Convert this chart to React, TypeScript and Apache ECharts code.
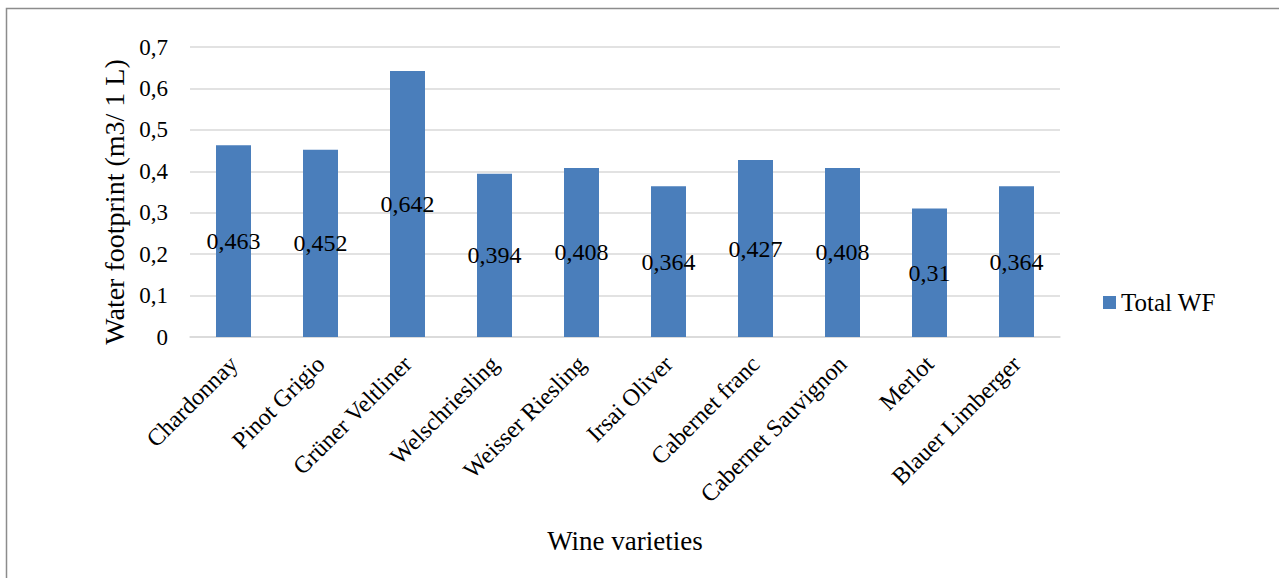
import React, { useEffect, useRef } from "react";
import * as echarts from "echarts";

const categories = [
  "Chardonnay",
  "Pinot Grigio",
  "Grüner Veltliner",
  "Welschriesling",
  "Weisser Riesling",
  "Irsai Oliver",
  "Cabernet franc",
  "Cabernet Sauvignon",
  "Merlot",
  "Blauer Limberger",
];
const totalWF = [0.463, 0.452, 0.642, 0.394, 0.408, 0.364, 0.427, 0.408, 0.31, 0.364];
const seriesName = "Total WF";
const yAxisName = "Water footprint (m3/ 1 L)";
const xAxisName = "Wine varieties";

const FONT = "Liberation Serif";
const comma = (v: number) => String(v).replace(".", ",");

export default function App() {
  const ref = useRef<HTMLDivElement>(null);

  useEffect(() => {
    if (!ref.current) return;
    const chart = echarts.init(ref.current, null, { renderer: "svg" });
    chart.setOption({
      animation: false,
      backgroundColor: "#ffffff",
      textStyle: { fontFamily: FONT, color: "#000" },
      graphic: [
        {
          type: "rect",
          shape: { x: 6.5, y: 8.5, width: 1300, height: 600 },
          style: { fill: "none", stroke: "#8c8c8c", lineWidth: 1.5 },
          silent: true,
        },
      ],
      legend: {
        left: 1098,
        top: 285,
        itemWidth: 13,
        itemHeight: 13,
        itemGap: 6,
        icon: "rect",
        textStyle: { fontFamily: FONT, fontSize: 25, color: "#000" },
        data: [seriesName],
      },
      grid: { left: 190, right: 219, top: 47, bottom: 241, containLabel: false },
      xAxis: {
        type: "category",
        data: categories,
        name: xAxisName,
        nameLocation: "middle",
        nameGap: 190,
        nameTextStyle: { fontFamily: FONT, fontSize: 27, color: "#000" },
        axisTick: { show: false },
        axisLine: { lineStyle: { color: "#d9d9d9", width: 1.5 } },
        axisLabel: {
          rotate: 45,
          interval: 0,
          margin: 23,
          fontFamily: FONT,
          fontSize: 24,
          color: "#000",
        },
      },
      yAxis: {
        type: "value",
        min: 0,
        max: 0.7,
        interval: 0.1,
        name: yAxisName,
        nameLocation: "middle",
        nameGap: 58,
        nameTextStyle: {
          fontFamily: FONT,
          fontSize: 28,
          color: "#000",
          padding: [0, 20, 0, 0],
        },
        axisLine: { show: false },
        axisTick: { show: false },
        splitLine: { lineStyle: { color: "#d9d9d9", width: 1.5 } },
        axisLabel: {
          margin: 22,
          fontFamily: FONT,
          fontSize: 23,
          color: "#000",
          formatter: (v: number) => comma(Math.round(v * 10) / 10),
        },
      },
      series: [
        {
          name: seriesName,
          type: "bar",
          data: totalWF,
          barWidth: 35,
          itemStyle: { color: "#4a7ebb" },
          label: {
            show: true,
            position: "inside",
            fontFamily: FONT,
            fontSize: 24,
            color: "#000",
            formatter: (p: any) => comma(p.value),
          },
        },
      ],
    });
    return () => chart.dispose();
  }, []);

  return (
    <div
      ref={ref}
      style={{ position: "fixed", left: 0, top: 0, width: 1279, height: 578 }}
    />
  );
}
